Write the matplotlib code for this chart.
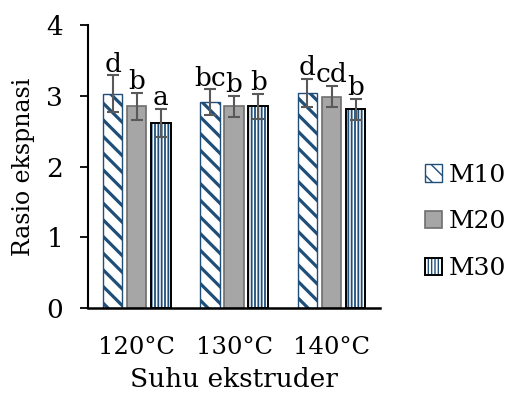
import numpy as np
import matplotlib.pyplot as plt

# Rasio ekspansi per suhu ekstruder
suhu = ["120°C", "130°C", "140°C"]
seri = ["M10", "M20", "M30"]
m10 = [3.03, 2.91, 3.04]
m20 = [2.85, 2.85, 2.99]
m30 = [2.62, 2.85, 2.81]
sd_m10 = [0.26, 0.18, 0.20]
sd_m20 = [0.19, 0.15, 0.15]
sd_m30 = [0.20, 0.18, 0.15]
huruf_m10 = ["d", "bc", "d"]
huruf_m20 = ["b", "b", "cd"]
huruf_m30 = ["a", "b", "b"]

plt.rcParams['font.family'] = ['DejaVu Serif']
fs = 19

biru = "#1F4E79"
abu = "#A6A6A6"

fig = plt.figure(figsize=(5.09, 3.99), dpi=100)
ax = fig.add_axes([0.173, 0.228, 0.574, 0.709])

x = np.arange(len(suhu))
w = 0.2
step = 0.247

# M10: diagonal stripes
b1 = ax.bar(x - step, m10, w, color="white", edgecolor=biru, hatch="\\\\", linewidth=1.0, zorder=2)
for p in b1:
    p.set_hatch_linewidth(2.3)
# M20: plain gray
b2 = ax.bar(x, m20, w, color=abu, edgecolor="#6E6E6E", linewidth=1.2, zorder=2)
# M30: blue vertical lines inside a black outline
b3a = ax.bar(x + step, m30, w, color="white", edgecolor=biru, hatch="|||||", linewidth=0, zorder=2)
for p in b3a:
    p.set_hatch_linewidth(1.3)
b3 = ax.bar(x + step, m30, w, color="none", edgecolor="black", linewidth=1.4, zorder=3)

for xs, ys, es in [(x - step, m10, sd_m10), (x, m20, sd_m20), (x + step, m30, sd_m30)]:
    ax.errorbar(xs, ys, yerr=es, fmt="none", ecolor="#595959", elinewidth=1.5,
                capsize=4, capthick=1.5, zorder=4)

for xs, ys, es, hs in [(x - step, m10, sd_m10, huruf_m10), (x, m20, sd_m20, huruf_m20),
                       (x + step, m30, sd_m30, huruf_m30)]:
    for xi, yi, ei, h in zip(xs, ys, es, hs):
        ax.text(xi, yi + ei + 0.05, h, ha="center", va="baseline", fontsize=fs, zorder=5)

ax.set_xlim(-0.5, 2.5)
ax.set_ylim(0, 4)
ax.set_yticks([0, 1, 2, 3, 4])
ax.set_xticks(x)
ax.set_xticklabels(suhu)
ax.tick_params(axis="x", length=0, pad=20, labelsize=17.5)
ax.tick_params(axis="y", length=6, width=1.3, direction="out", pad=12, labelsize=fs)
ax.spines["top"].set_visible(False)
ax.spines["right"].set_visible(False)
ax.spines["left"].set_linewidth(1.5)
ax.spines["bottom"].set_linewidth(1.8)
ax.set_xlabel("Suhu ekstruder", fontsize=fs, labelpad=6)
ax.set_ylabel("Rasio ekspnasi", fontsize=17, labelpad=8)

fig.legend([b1, b2, (b3a, b3)], seri, loc="center left", bbox_to_anchor=(0.815, 0.444),
           frameon=False, fontsize=18, handlelength=0.7, handleheight=0.7,
           handletextpad=0.25, labelspacing=0.95, borderaxespad=0)

fig.savefig("out.png", dpi=100)
